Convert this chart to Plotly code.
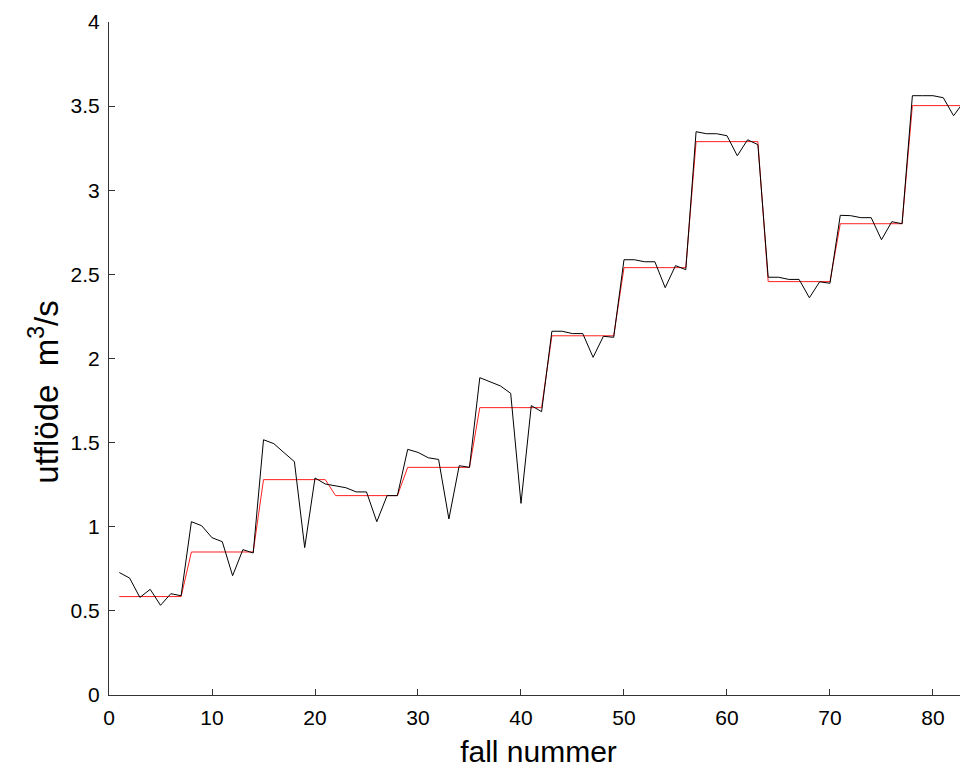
import plotly.graph_objects as go

case_no = list(range(1, 84))

measured = [
    0.728, 0.695, 0.58, 0.628, 0.533, 0.602, 0.59,
    1.03, 1.006, 0.935, 0.911, 0.709, 0.864, 0.844,
    1.517, 1.494, 1.44, 1.387, 0.876, 1.29, 1.254,
    1.242, 1.232, 1.207, 1.207, 1.03, 1.185, 1.185,
    1.46, 1.442, 1.41, 1.40, 1.046, 1.363, 1.353,
    1.886, 1.862, 1.837, 1.793, 1.139, 1.72, 1.684,
    2.162, 2.162, 2.148, 2.148, 2.007, 2.132, 2.126,
    2.587, 2.587, 2.575, 2.575, 2.421, 2.552, 2.528,
    3.348, 3.336, 3.336, 3.324, 3.205, 3.30, 3.271,
    2.483, 2.483, 2.47, 2.47, 2.361, 2.456, 2.447,
    2.851, 2.849, 2.837, 2.837, 2.706, 2.813, 2.801,
    3.562, 3.562, 3.562, 3.55, 3.443, 3.526,
]

group_levels = [0.585, 0.85, 1.28, 1.185, 1.353, 1.708, 2.135,
                2.54, 3.289, 2.457, 2.801, 3.503]
group_size = 7
reference = [group_levels[(n - 1) // group_size] for n in case_no]

x_ticks = [0, 10, 20, 30, 40, 50, 60, 70, 80]
y_ticks = [0, 0.5, 1, 1.5, 2, 2.5, 3, 3.5, 4]
y_tick_text = ["0", "0.5", "1", "1.5", "2", "2.5", "3", "3.5", "4"]
y_title = "utflöde  m<sup>3</sup>/s"
x_title = "fall nummer"

fig = go.Figure()
fig.add_trace(go.Scatter(x=case_no, y=reference, mode="lines",
                         line=dict(color="#ff2020", width=1), showlegend=False))
fig.add_trace(go.Scatter(x=case_no, y=measured, mode="lines",
                         line=dict(color="black", width=1), showlegend=False))

font_family = "Liberation Sans, Arial, sans-serif"
fig.update_layout(
    width=960, height=766,
    margin=dict(l=101, r=0, t=14, b=79),
    paper_bgcolor="white", plot_bgcolor="white",
    font=dict(family=font_family, color="black"),
    xaxis=dict(range=[0, 83.4], tickmode="array", tickvals=x_ticks,
               ticks="inside", ticklen=6, tickcolor="#333", showline=True,
               linecolor="#333", linewidth=1, showgrid=False, zeroline=False,
               tickfont=dict(size=21), ticklabelstandoff=4,
               title=dict(text=x_title, font=dict(size=30), standoff=12)),
    yaxis=dict(range=[0, 4], tickmode="array", tickvals=y_ticks, ticktext=y_tick_text,
               ticks="inside", ticklen=6, tickcolor="#333", showline=True,
               linecolor="#333", linewidth=1, showgrid=False, zeroline=False,
               tickfont=dict(size=21), ticklabelstandoff=4),
    annotations=[dict(text=y_title, textangle=-90, xref="paper", yref="paper",
                      x=-0.075, y=0.45, xanchor="center", yanchor="middle",
                      showarrow=False, font=dict(size=33))],
)

fig.write_html("out.html")
